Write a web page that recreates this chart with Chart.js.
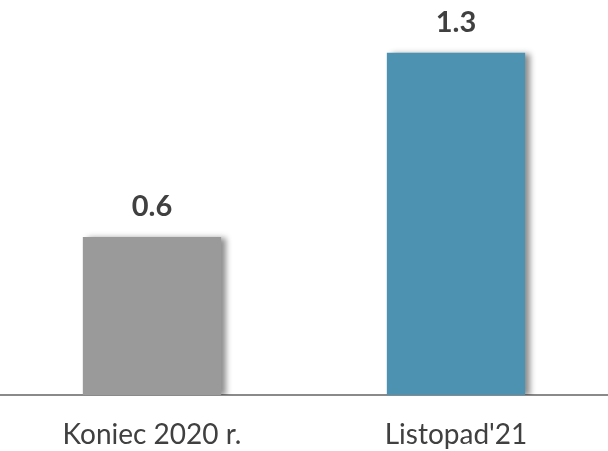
<!DOCTYPE html>
<html>
<head>
<meta charset="utf-8">
<script src="https://cdn.jsdelivr.net/npm/chart.js@4.4.0/dist/chart.umd.min.js"></script>
<style>
  html, body { margin: 0; padding: 0; background: #fff; }
  #wrap { width: 608px; height: 451px; }
</style>
</head>
<body>
<div id="wrap"><canvas id="chart"></canvas></div>
<script>
const categories = ['Koniec 2020 r.', "Listopad'21"];
const values = [0.6, 1.3];
const barColors = ['#9a9a9a', '#4d93b1'];

// bar shadow to the right, like the office export
const shadowPlugin = {
    id: 'barShadow',
    beforeDatasetDraw(chart) {
        const ctx = chart.ctx;
        ctx.save();
        ctx.shadowColor = 'rgba(0,0,0,0.45)';
        ctx.shadowOffsetX = 5;
        ctx.shadowOffsetY = 1;
        ctx.shadowBlur = 6;
    },
    afterDatasetDraw(chart) {
        chart.ctx.restore();
    }
};

// value labels above each bar
const valueLabels = {
    id: 'valueLabels',
    afterDatasetsDraw(chart) {
        const ctx = chart.ctx;
        const meta = chart.getDatasetMeta(0);
        ctx.save();
        ctx.font = 'bold 29px Lato, "Open Sans", sans-serif';
        ctx.fillStyle = '#404040';
        ctx.textAlign = 'center';
        ctx.textBaseline = 'middle';
        meta.data.forEach((bar, i) => {
            ctx.fillText(values[i].toFixed(1), bar.x, bar.y - 30);
        });
        ctx.restore();
    }
};

new Chart(document.getElementById('chart'), {
    type: 'bar',
    data: {
        labels: categories,
        datasets: [{
            data: values,
            backgroundColor: barColors,
            categoryPercentage: 1,
            barPercentage: 0.455
        }]
    },
    options: {
        responsive: true,
        maintainAspectRatio: false,
        animation: false,
        layout: { padding: 0 },
        plugins: { legend: { display: false }, tooltip: { enabled: false } },
        scales: {
            x: {
                grid: { display: false, drawTicks: false },
                border: { display: true, color: '#8a8a8a', width: 2 },
                ticks: {
                    padding: 23,
                    color: '#404040',
                    font: { family: 'Lato, "Open Sans", sans-serif', size: 28 }
                },
                afterFit(scale) { scale.height = 56; }
            },
            y: {
                display: false,
                min: 0,
                max: 1.5
            }
        }
    },
    plugins: [shadowPlugin, valueLabels]
});
</script>
</body>
</html>
